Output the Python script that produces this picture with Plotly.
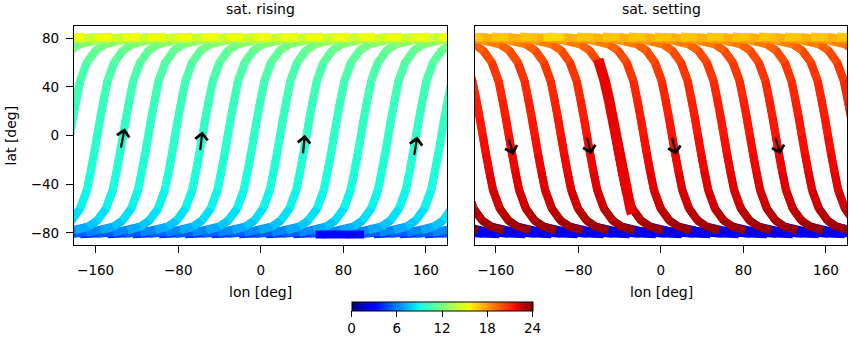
import plotly.graph_objects as go
from plotly.colors import sample_colorscale

# ---------------- data ----------------
# one ground-track template: latitude, longitude offset from the equator crossing, local time [h]
TRACK_LAT = [-81.2, -80.8, -80.0, -78.0, -75.0, -70.0, -60.0, -45.0, -30.0, -15.0, 0.0,
             15.0, 30.0, 45.0, 60.0, 70.0, 75.0, 78.0, 80.0, 80.8, 81.2]
RISE_DLON = [-92, -76, -60, -46, -34, -25, -16.5, -10, -6.3, -3, 0,
             3, 6.3, 10, 16.5, 25, 34, 46, 60, 76, 92]
RISE_LT = [3.6, 4.6, 5.7, 6.6, 7.4, 8.0, 8.6, 9.0, 9.3, 9.5, 9.7,
           9.9, 10.1, 10.4, 10.8, 11.4, 12.0, 12.8, 13.7, 14.8, 15.8]
SET_DLON = [92, 76, 60, 46, 34, 25, 16.5, 10, 6.3, 3, 0,
            -3, -6.3, -10, -16.5, -25, -34, -46, -60, -76, -92]
SET_LT = [3.0, 2.7, 2.3, 1.8, 23.5, 23.1, 22.5, 22.1, 21.8, 21.6, 21.4,
          21.2, 21.0, 20.7, 20.3, 19.7, 19.1, 18.3, 17.6, 17.0, 16.6]

# equator-crossing longitudes of the tracks
RISE_CROSS = [-158.5, -133.5, -109, -83, -56.5, -32, -6.5, 18.7, 44.3, 71, 97, 123.5, 150.5, 175]
SET_CROSS = [-172.7, -147.4, -122.2, -96.9, -71.7, -44.2, -16.7, 10.75, 35.9, 61, 86.2, 111.3, 136.6, 161.9]

# special passes
THICK_LAT = [62.7, 60, 45, 30, 15, 0, -15, -30, -45, -60, -64.3]
THICK_LON = [-60.8, -59.5, -54.5, -50.5, -47.3, -44.2, -41.1, -37.9, -33.9, -29.5, -27.8]
THICK_LT = 21.8
SET_PATCH_LAT = [81.0, 81.0]
SET_PATCH_LON = [-114, -95]
SET_PATCH_LT = 16.3
RISE_PATCH_LAT = [-81.3, -81.3]
RISE_PATCH_LON = [53, 100]
RISE_PATCH_LT = 3.1

# direction arrows (tail -> tip)
RISE_ARR_TAIL_LON = [-135.8, -58.9, 40.7, 148.4]
RISE_ARR_TAIL_LAT = [-11.3, -13.2, -15.9, -17.3]
RISE_ARR_TIP_LON = [-131.9, -56.6, 42.7, 151.6]
RISE_ARR_TIP_LAT = [6.0, 3.3, 0.6, -0.8]
SET_ARR_TAIL_LON = [-147.8, -71.8, 10.7, 110.9]
SET_ARR_TAIL_LAT = [-2.2, -0.8, -0.8, -0.8]
SET_ARR_TIP_LON = [-143.0, -67.6, 14.8, 115.7]
SET_ARR_TIP_LAT = [-15.9, -15.4, -15.9, -15.4]

X_TICKS = [-160, -80, 0, 80, 160]
Y_TICKS = [-80, -40, 0, 40, 80]
CB_TICKS = [0, 6, 12, 18, 24]

# ---------------- colour scale (matplotlib jet) ----------------
R = [(0, 0), (0.35, 0), (0.66, 1), (0.89, 1), (1, 0.5)]
G = [(0, 0), (0.125, 0), (0.375, 1), (0.64, 1), (0.91, 0), (1, 0)]
B = [(0, 0.5), (0.11, 1), (0.34, 1), (0.65, 0), (1, 0)]


def _lin(pts, t):
    for (x0, y0), (x1, y1) in zip(pts[:-1], pts[1:]):
        if x0 <= t <= x1:
            return y0 + (y1 - y0) * (t - x0) / (x1 - x0)
    return pts[-1][1]


STOPS = [0, 0.11, 0.125, 0.34, 0.35, 0.375, 0.64, 0.65, 0.66, 0.89, 0.91, 1]
JET = [[s, "rgb(%d,%d,%d)" % (round(255 * _lin(R, s)), round(255 * _lin(G, s)), round(255 * _lin(B, s)))]
       for s in STOPS]


def lt_color(v):
    return sample_colorscale(JET, [(v % 24) / 24.0])[0]


fig = go.Figure()
WIDTH = 8


def add_tracks(xa, ya, cross, dlon, lt):
    n = len(TRACK_LAT)
    for k in range(n - 1):
        a, b = lt[k], lt[k + 1]
        if abs(a - b) > 12:
            c = a if abs(TRACK_LAT[k]) < abs(TRACK_LAT[k + 1]) else b
        else:
            c = 0.5 * (a + b)
        idx = list(range(k, min(k + 3, n)))  # overlap into next segment to hide seams
        xs, ys = [], []
        for c0 in cross:
            for sh in (-360, 0, 360):
                xs += [c0 + dlon[i] + sh for i in idx] + [None]
                ys += [TRACK_LAT[i] for i in idx] + [None]
        fig.add_trace(go.Scatter(x=xs, y=ys, mode="lines", xaxis=xa, yaxis=ya,
                                 line=dict(color=lt_color(c), width=WIDTH),
                                 hoverinfo="skip", showlegend=False))


add_tracks("x", "y", RISE_CROSS, RISE_DLON, RISE_LT)
add_tracks("x2", "y2", SET_CROSS, SET_DLON, SET_LT)

fig.add_trace(go.Scatter(x=RISE_PATCH_LON, y=RISE_PATCH_LAT, mode="lines", xaxis="x", yaxis="y",
                         line=dict(color=lt_color(RISE_PATCH_LT), width=WIDTH),
                         hoverinfo="skip", showlegend=False))
fig.add_trace(go.Scatter(x=THICK_LON, y=THICK_LAT, mode="lines", xaxis="x2", yaxis="y2",
                         line=dict(color=lt_color(THICK_LT), width=10.5),
                         hoverinfo="skip", showlegend=False))
fig.add_trace(go.Scatter(x=SET_PATCH_LON, y=SET_PATCH_LAT, mode="lines", xaxis="x2", yaxis="y2",
                         line=dict(color=lt_color(SET_PATCH_LT), width=WIDTH),
                         hoverinfo="skip", showlegend=False))

# colour bar carrier
fig.add_trace(go.Scatter(x=[None], y=[None], mode="markers", xaxis="x", yaxis="y",
                         marker=dict(color=[0], cmin=0, cmax=24, colorscale=JET, showscale=True,
                                     colorbar=dict(orientation="h", x=442 / 850, xanchor="center",
                                                   y=1 - 301.5 / 338, yanchor="top", len=180.6,
                                                   lenmode="pixels", thickness=9, xpad=0, ypad=0,
                                                   outlinewidth=1, outlinecolor="black",
                                                   tickvals=CB_TICKS, ticks="outside", ticklen=6,
                                                   tickcolor="black",
                                                   tickfont=dict(size=13.5, color="black"))),
                         hoverinfo="skip", showlegend=False))

FONT = "DejaVu Sans"
axis_common = dict(showline=True, linecolor="black", linewidth=1.3, mirror=True, showgrid=False,
                   zeroline=False, ticks="outside", ticklen=7, tickwidth=1.2, tickcolor="black",
                   tickfont=dict(size=13.5, color="black"))

fig.update_layout(
    width=850, height=338, margin=dict(l=0, r=0, t=0, b=0),
    paper_bgcolor="white", plot_bgcolor="white",
    font=dict(family=FONT, size=13.5, color="black"),
    xaxis=dict(domain=[74 / 850, 447 / 850], range=[-181, 180.4], tickvals=X_TICKS,
               anchor="y", ticklabelstandoff=6, **axis_common),
    yaxis=dict(domain=[1 - 245 / 338, 1 - 26 / 338], range=[-90, 90], tickvals=Y_TICKS,
               anchor="x", ticklabelstandoff=4, **axis_common),
    xaxis2=dict(domain=[475 / 850, 847 / 850], range=[-180.2, 180.4], tickvals=X_TICKS,
                anchor="y2", ticklabelstandoff=6, **axis_common),
    yaxis2=dict(domain=[1 - 245 / 338, 1 - 26 / 338], range=[-90, 90], tickvals=Y_TICKS,
                anchor="x2", showticklabels=False,
                **{k: v for k, v in axis_common.items() if k not in ("ticks",)}, ticks=""),
)

for i in range(len(RISE_ARR_TIP_LON)):
    fig.add_annotation(x=RISE_ARR_TIP_LON[i], y=RISE_ARR_TIP_LAT[i], ax=RISE_ARR_TAIL_LON[i],
                       ay=RISE_ARR_TAIL_LAT[i], xref="x", yref="y", axref="x", ayref="y",
                       text="", showarrow=True, arrowhead=4, arrowsize=1.1, arrowwidth=2.2,
                       arrowcolor="black")
for i in range(len(SET_ARR_TIP_LON)):
    fig.add_annotation(x=SET_ARR_TIP_LON[i], y=SET_ARR_TIP_LAT[i], ax=SET_ARR_TAIL_LON[i],
                       ay=SET_ARR_TAIL_LAT[i], xref="x2", yref="y2", axref="x2", ayref="y2",
                       text="", showarrow=True, arrowhead=4, arrowsize=1.1, arrowwidth=2.2,
                       arrowcolor="black")

# titles and axis labels
texts = [
    ("sat. rising", 260.5, 9, 0),
    ("sat. setting", 661, 9, 0),
    ("lon [deg]", 260.5, 292, 0),
    ("lon [deg]", 661, 292, 0),
    ("lat [deg]", 10, 135.5, -90),
]
for t, px, py, ang in texts:
    fig.add_annotation(x=px / 850, y=1 - py / 338, xref="paper", yref="paper", text=t,
                       showarrow=False, xanchor="center", yanchor="middle", textangle=ang,
                       font=dict(family=FONT, size=14, color="black"))

fig.write_html("out.html")
